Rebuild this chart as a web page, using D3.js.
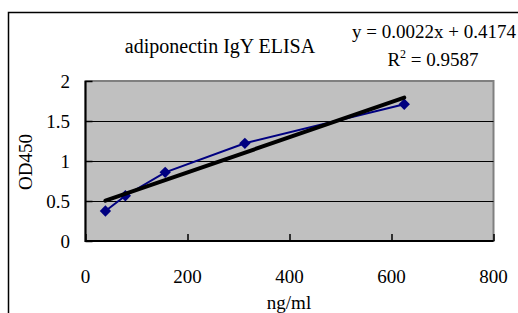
<!DOCTYPE html>
<html>
<head>
<meta charset="utf-8">
<script src="https://cdn.jsdelivr.net/npm/d3@7"></script>
<style>
  body { margin: 0; background: #fff; }
  text { font-family: "Liberation Serif", "Times New Roman", serif; fill: #000; }
</style>
</head>
<body>
<svg id="chart" width="518" height="313"></svg>
<script>
// concentration (ng/ml) and OD450 readings
const conc = [39.06, 78.125, 156.25, 312.5, 625];
const od = [0.375, 0.566, 0.858, 1.221, 1.709];
// linear trendline as printed on the chart
const slope = 0.0022;
const intercept = 0.4174;
const xTicks = [0, 200, 400, 600, 800];
const yTicks = [0, 0.5, 1, 1.5, 2];

const svg = d3.select('#chart');

// outer chart border (cut off at right and bottom)
svg.append('path')
   .attr('d', 'M8.5,313 L8.5,12.5 L518,12.5')
   .attr('fill', 'none')
   .attr('stroke', '#000')
   .attr('stroke-width', 1.5);

let start = {x: 85.5, y: 81};
let stop  = {x: 493.5, y: 241};

let xScale = d3.scaleLinear()
               .domain([0, 800])
               .range([start.x, stop.x]);
let yScale = d3.scaleLinear()
               .domain([0, 2])
               .range([stop.y, start.y]);

// plot area
svg.append('rect')
   .attr('x', start.x)
   .attr('y', start.y)
   .attr('width', stop.x - start.x)
   .attr('height', stop.y - start.y)
   .attr('fill', '#c0c0c0')
   .attr('stroke', '#808080')
   .attr('stroke-width', 2);

// gridlines
for(let t of yTicks.slice(1, -1)){
  svg.append('line')
     .attr('x1', start.x)
     .attr('x2', stop.x)
     .attr('y1', Math.round(yScale(t)) + 0.5)
     .attr('y2', Math.round(yScale(t)) + 0.5)
     .attr('stroke', '#000')
     .attr('stroke-width', 1);
}

// axes with inner ticks
let xAxis = svg.append('g')
   .attr('transform', `translate(0,${stop.y})`)
   .call(d3.axisTop(xScale).tickValues(xTicks).tickSize(7).tickFormat(''));
xAxis.select('.domain').remove();
xAxis.selectAll('line').attr('stroke', '#000').attr('stroke-width', 1.5);

let yAxis = svg.append('g')
   .attr('transform', `translate(${start.x},0)`)
   .call(d3.axisRight(yScale).tickValues(yTicks).tickSize(7).tickFormat(''));
yAxis.select('.domain').remove();
yAxis.selectAll('line').attr('stroke', '#000').attr('stroke-width', 1.5);

svg.append('path')
   .attr('d', `M${start.x},${start.y} L${start.x},${stop.y} L${stop.x},${stop.y}`)
   .attr('fill', 'none')
   .attr('stroke', '#000')
   .attr('stroke-width', 2);

// tick labels
svg.selectAll('.xlab')
   .data(xTicks)
   .enter()
   .append('text')
   .attr('class', 'xlab')
   .attr('x', d => xScale(d))
   .attr('y', 283)
   .attr('text-anchor', 'middle')
   .attr('font-size', '19px')
   .text(d => d);

svg.selectAll('.ylab')
   .data(yTicks)
   .enter()
   .append('text')
   .attr('class', 'ylab')
   .attr('x', 70)
   .attr('y', d => yScale(d) + 7)
   .attr('text-anchor', 'end')
   .attr('font-size', '19px')
   .text(d => d);

// axis titles
svg.append('text')
   .attr('x', 289)
   .attr('y', 309)
   .attr('text-anchor', 'middle')
   .attr('font-size', '19px')
   .text('ng/ml');

svg.append('text')
   .attr('transform', 'translate(32,162) rotate(-90)')
   .attr('text-anchor', 'middle')
   .attr('font-size', '19px')
   .text('OD450');

// title
svg.append('text')
   .attr('x', 220)
   .attr('y', 53)
   .attr('text-anchor', 'middle')
   .attr('font-size', '20px')
   .text('adiponectin IgY ELISA');

// trendline label
svg.append('text')
   .attr('x', 434)
   .attr('y', 38)
   .attr('text-anchor', 'middle')
   .attr('font-size', '19px')
   .text(`y = ${slope}x + ${intercept}`);

let r2 = svg.append('text')
   .attr('x', 433)
   .attr('y', 66)
   .attr('text-anchor', 'middle')
   .attr('font-size', '19px');
r2.append('tspan').text('R');
r2.append('tspan').attr('dy', -8).attr('font-size', '12px').text('2');
r2.append('tspan').attr('dy', 8).text(' = 0.9587');

// data series
let data = conc.map((c, i) => ({x: c, y: od[i]}));
let lineFunction = d3.line()
   .x(d => xScale(d.x))
   .y(d => yScale(d.y));

svg.append('path')
   .attr('d', lineFunction(data))
   .attr('fill', 'none')
   .attr('stroke', '#000080')
   .attr('stroke-width', 2);

svg.selectAll('.pt')
   .data(data)
   .enter()
   .append('path')
   .attr('class', 'pt')
   .attr('transform', d => `translate(${xScale(d.x)},${yScale(d.y)}) rotate(45)`)
   .attr('d', d3.symbol().type(d3.symbolSquare).size(64))
   .attr('fill', '#000080');

// linear trendline over the data range
let xMin = d3.min(conc), xMax = d3.max(conc);
let trend = [xMin, xMax].map(x => ({x: x, y: slope * x + intercept}));
svg.append('path')
   .attr('d', lineFunction(trend))
   .attr('fill', 'none')
   .attr('stroke', '#000')
   .attr('stroke-width', 4)
   .attr('stroke-linecap', 'round');
</script>
</body>
</html>
